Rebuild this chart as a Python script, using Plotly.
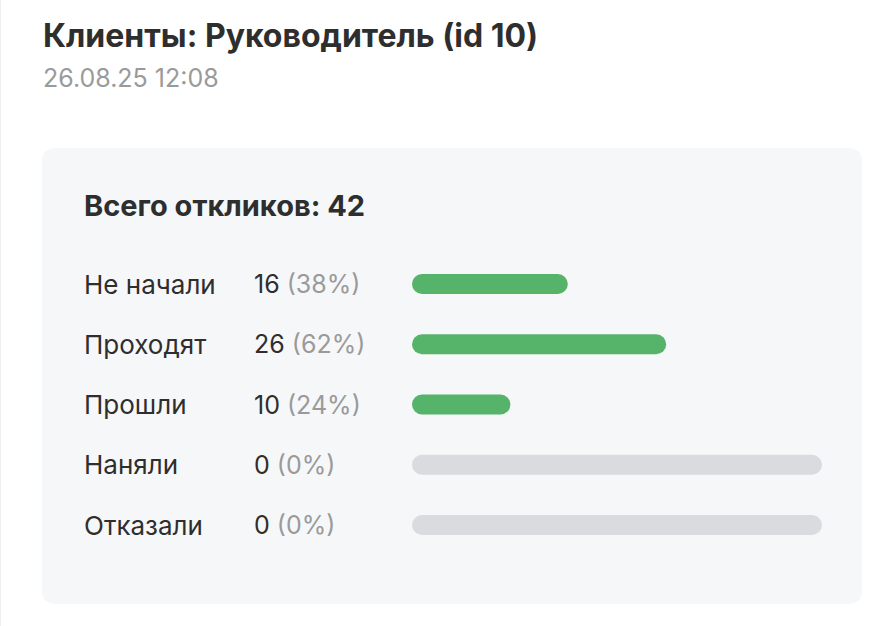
import plotly.graph_objects as go

# ---- data ----
title = "Клиенты: Руководитель (id 10)"
subtitle = "26.08.25 12:08"
total_label = "Всего откликов"
total = 42
categories = ["Не начали", "Проходят", "Прошли", "Наняли", "Отказали"]
counts = [16, 26, 10, 0, 0]
percents = [38, 62, 24, 0, 0]

W, H = 890, 626
FONT = "Inter"
GREEN = "#55B36A"
TRACK = "#DADBDE"
DARK = "#2E2E2E"
GREY = "#9A9A9A"

def px(x):
    return x / W

def py(y):
    return 1 - y / H

rows = list(range(len(categories)))
row_step = 60.25
first_row = 284
b = -first_row / row_step
a = b + H / row_step
bar_w = 20 / row_step
EPS = 1e-6  # non-zero base so plotly rounds both bar ends

fig = go.Figure()

bar_style = dict(orientation="h", width=bar_w, hoverinfo="skip", showlegend=False)

# grey tracks for empty rows
track = [100 if c == 0 else None for c in counts]
fig.add_trace(go.Bar(y=rows, x=track, base=[EPS] * len(rows),
                     marker=dict(color=TRACK, cornerradius="50%", line=dict(width=0)), **bar_style))

# green value bars
vals = [p if p > 0 else None for p in percents]
fig.add_trace(go.Bar(y=rows, x=vals, base=[EPS] * len(rows),
                     marker=dict(color=GREEN, cornerradius="50%", line=dict(width=0)), **bar_style))

annotations = [
    dict(x=px(41), y=py(35), xref="paper", yref="paper", xanchor="left", yanchor="middle",
         text=f"<b>{title}</b>", showarrow=False, font=dict(family=FONT, size=32, color=DARK)),
    dict(x=px(41), y=py(78), xref="paper", yref="paper", xanchor="left", yanchor="middle",
         text=subtitle, showarrow=False, font=dict(family=FONT, size=25, color=GREY)),
    dict(x=px(82), y=py(206), xref="paper", yref="paper", xanchor="left", yanchor="middle",
         text=f"<b>{total_label}: {total}</b>", showarrow=False, font=dict(family=FONT, size=29, color=DARK)),
]
for i, (cat, c, p) in enumerate(zip(categories, counts, percents)):
    annotations.append(dict(x=px(82), y=i, xref="paper", yref="y", xanchor="left", yanchor="middle",
                            text=cat, showarrow=False, font=dict(family=FONT, size=26, color=DARK)))
    annotations.append(dict(x=px(252), y=i, xref="paper", yref="y", xanchor="left", yanchor="middle",
                            text=f"{c} <span style='color:{GREY}'>({p}%)</span>", showarrow=False,
                            font=dict(family=FONT, size=25, color=DARK)))

# card with rounded corners
x0, x1, y0, y1, r = px(42), px(862), py(148), py(604), 14
rx, ry = r / W, r / H
card_path = (f"M {x0+rx},{y0} L {x1-rx},{y0} Q {x1},{y0} {x1},{y0-ry} "
             f"L {x1},{y1+ry} Q {x1},{y1} {x1-rx},{y1} L {x0+rx},{y1} Q {x0},{y1} {x0},{y1+ry} "
             f"L {x0},{y0-ry} Q {x0},{y0} {x0+rx},{y0} Z")

shapes = [
    dict(type="path", xref="paper", yref="paper", path=card_path,
         fillcolor="#F6F7F9", line=dict(width=0), layer="below"),
    dict(type="line", xref="paper", yref="paper", x0=px(0.5), x1=px(0.5), y0=0, y1=1,
         line=dict(color="#EFEFEF", width=1)),
]

fig.update_layout(
    width=W, height=H,
    margin=dict(l=0, r=0, t=0, b=0),
    paper_bgcolor="white", plot_bgcolor="rgba(0,0,0,0)",
    barmode="overlay",
    xaxis=dict(domain=[px(412), px(822)], range=[0, 100], visible=False, fixedrange=True),
    yaxis=dict(domain=[0, 1], range=[a, b], visible=False, fixedrange=True),
    annotations=annotations, shapes=shapes,
    showlegend=False,
)

fig.write_html("out.html", config={"displayModeBar": False},
               post_script="document.body.style.margin='0';document.body.style.overflow='hidden';")
